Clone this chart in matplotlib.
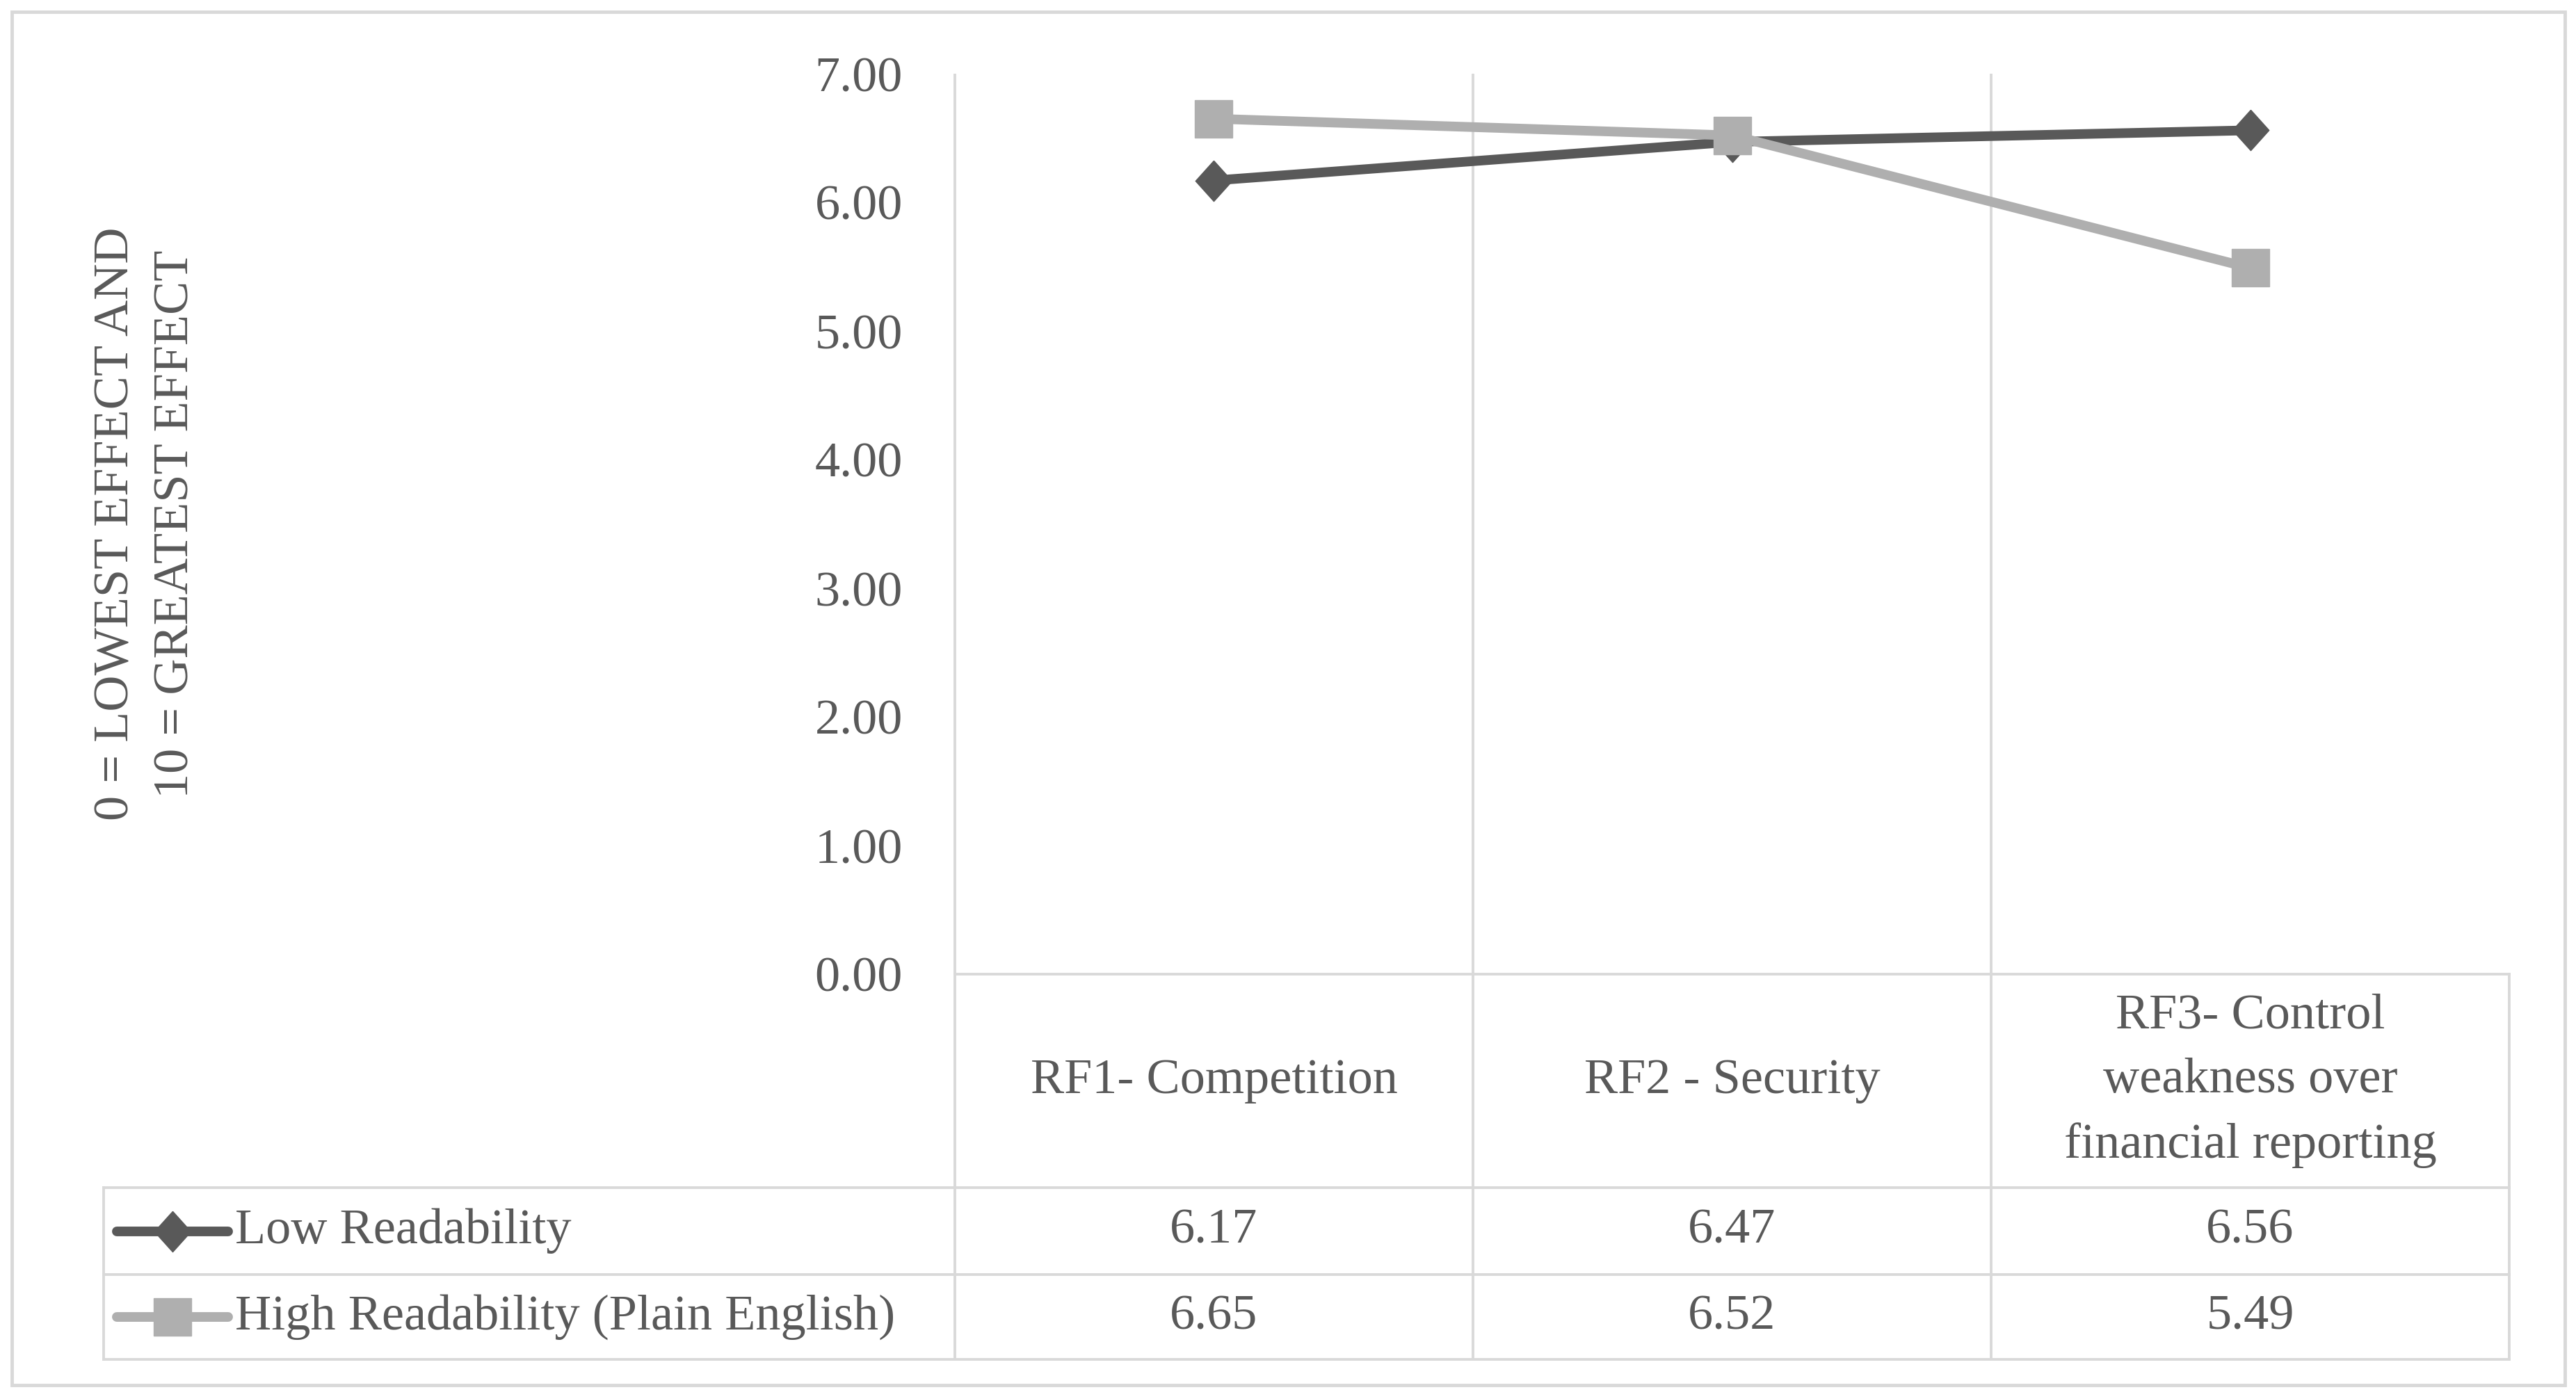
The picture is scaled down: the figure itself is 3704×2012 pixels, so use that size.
import numpy as np
import matplotlib
matplotlib.use("Agg")
import matplotlib.pyplot as plt
from matplotlib.patches import Rectangle

categories = ["RF1- Competition", "RF2 - Security",
              "RF3- Control\nweakness over\nfinancial reporting"]
series_names = ["Low Readability", "High Readability (Plain English)"]
low_vals = [6.17, 6.47, 6.56]
high_vals = [6.65, 6.52, 5.49]
y_ticks = [0, 1, 2, 3, 4, 5, 6, 7]
y_title = "0 = LOWEST EFFECT AND\n10 = GREATEST EFFECT"

W, H = 3705, 2012
TXT = "#595959"
GRID = "#d9d9d9"
DARK = "#595959"
LIGHT = "#afafaf"
FS = 52
plt.rcParams['font.family'] = ['Liberation Serif', 'DejaVu Serif']

# excel-like diamond, slightly taller than wide
diamond = [(0, 1), (0.9, 0), (0, -1), (-0.9, 0), (0, 1)]

fig = plt.figure(figsize=(W / 100, H / 100), dpi=100)

# background layer in pixel coords: border + table grid
bg = fig.add_axes([0, 0, 1, 1], zorder=0)
bg.set_xlim(0, W)
bg.set_ylim(H, 0)
bg.axis("off")

ax_l, ax_r, ax_t, ax_b = 1373, 3608, 106, 1401
row_y = [1708, 1833, 1955]
tab_l = 149

bg.add_patch(Rectangle((17, 17), 3671, 1975, fill=False, ec=GRID, lw=3.5))
lw = 2.8
# horizontal lines
bg.plot([ax_l, ax_r], [ax_b, ax_b], color=GRID, lw=lw)
for y in row_y:
    bg.plot([tab_l, ax_r], [y, y], color=GRID, lw=lw)
# vertical lines
bg.plot([tab_l, tab_l], [row_y[0], row_y[-1]], color=GRID, lw=lw)
bg.plot([ax_r, ax_r], [ax_b, row_y[-1]], color=GRID, lw=lw)

# main plot
ax = fig.add_axes([ax_l / W, 1 - ax_b / H, (ax_r - ax_l) / W, (ax_b - ax_t) / H],
                  zorder=1)
ax.patch.set_alpha(0)
n = len(categories)
x = np.arange(n) + 0.5
ax.set_xlim(0, n)
ax.set_ylim(0, 7)
for s in ax.spines.values():
    s.set_visible(False)
for b in range(n):
    ax.plot([b, b], [0, 1], transform=ax.get_xaxis_transform(), color=GRID,
            lw=lw, clip_on=False, zorder=0, solid_capstyle='butt')
    ax.plot([b, b], [0, -(row_y[-1] - ax_b) / (ax_b - ax_t)],
            transform=ax.get_xaxis_transform(), color=GRID, lw=lw,
            clip_on=False, zorder=0, solid_capstyle='butt')

ax.plot(x, low_vals, color=DARK, lw=10, marker=diamond, ms=42,
        solid_capstyle='round', clip_on=False, zorder=3)
ax.plot(x, high_vals, color=LIGHT, lw=10, marker='s', ms=39,
        solid_capstyle='round', clip_on=False, zorder=4)

ax.set_xticks([])
ax.set_yticks(y_ticks)
ax.set_yticklabels(["%.2f" % t for t in y_ticks], fontsize=FS, color=TXT)
ax.tick_params(axis='y', length=0, pad=54)
ax.set_ylabel(y_title, fontsize=FS, color=TXT, linespacing=1.42, va='center')
ax.yaxis.set_label_coords((210 - ax_l) / (ax_r - ax_l), 0.5)

tr = ax.get_xaxis_transform()
def yfrac(py):
    return (ax_b - py) / (ax_b - ax_t)

for i, c in enumerate(categories):
    ax.text(x[i], yfrac((ax_b + row_y[0]) / 2), c, transform=tr, ha='center',
            va='center', fontsize=FS, color=TXT, linespacing=1.55)

rows = [low_vals, high_vals]
styles = [(DARK, diamond, 42), (LIGHT, 's', 39)]
for r, vals in enumerate(rows):
    yc = (row_y[r] + row_y[r + 1]) / 2
    for i, v in enumerate(vals):
        ax.text(x[i], yfrac(yc), "%.2f" % v, transform=tr, ha='center',
                va='center', fontsize=FS, color=TXT)
    col, mk, ms = styles[r]
    bg.plot([168, 328], [yc, yc], color=col, lw=10, solid_capstyle='round')
    bg.plot([248], [yc], marker=mk, color=col, ms=ms)
    bg.text(338, yc, series_names[r], ha='left', va='center', fontsize=FS,
            color=TXT)

fig.savefig("out.png", dpi=100)
